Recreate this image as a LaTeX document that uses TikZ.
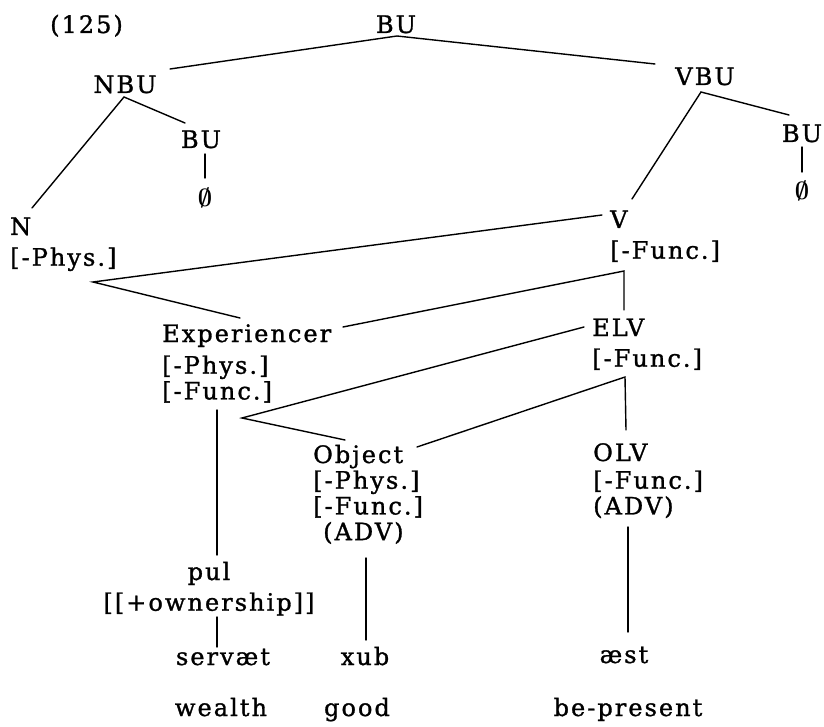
\documentclass[tikz,border=0pt]{standalone}
\usepackage{fontspec}
\setmainfont{DejaVu Serif}[LetterSpace=8.5, FakeBold=1.2]
\begin{document}
\begin{tikzpicture}[x=1pt,y=-1pt,
  every node/.style={inner sep=0pt, font=\fontsize{24}{25}\selectfont},
  lb/.style={anchor=base west},
  cb/.style={anchor=base},
  nul/.style={anchor=base, font=\fontsize{26}{26}\selectfont\boldmath},
  br/.style={line width=1.4pt, line cap=round, line join=miter}]
\useasboundingbox (0,0) rectangle (824,727);

% ---- nodes ----
\node[lb] (num) at (50,33) {(125)};
\node[cb] (bu0) at (396,33) {BU};
\node[cb] (nbu) at (125,93) {NBU};
\node[cb] (bu1) at (201,148) {BU};
\node[nul] (nul1) at (205,207) {$\emptyset$};
\node[cb] (vbu) at (705,85) {VBU};
\node[cb] (bu2) at (802,142) {BU};
\node[nul] (nul2) at (802,200) {$\emptyset$};

\node[lb] (n) at (10,235) {\begin{tabular}[t]{@{}l@{}}N\\[5pt]{}[-Phys.]\end{tabular}};
\node[lb] (v) at (610,228) {\begin{tabular}[t]{@{}l@{}}V\\[5pt]{}[-Func.]\end{tabular}};
\node[lb] (exp) at (162,342) {\begin{tabular}[t]{@{}l@{}}Experiencer\\[6pt]{}[-Phys.]\\{}[-Func.]\end{tabular}};
\node[lb] (elv) at (592,336) {\begin{tabular}[t]{@{}l@{}}ELV\\[5pt]{}[-Func.]\end{tabular}};
\node[lb] (obj) at (313,463) {\begin{tabular}[t]{@{}l@{}}Object\\{}[-Phys.]\\{}[-Func.]\\\hspace*{10pt}(ADV)\end{tabular}};
\node[lb] (olv) at (593,461) {\begin{tabular}[t]{@{}l@{}}OLV\\[2pt]{}[-Func.]\\(ADV)\end{tabular}};
\node[cb] (pul) at (209,580) {\begin{tabular}[t]{@{}c@{}}pul\\[5pt]{}[[+ownership]]\end{tabular}};

\node[cb] (serv) at (223,665) {servæt};
\node[cb] (xub) at (365,665) {xub};
\node[cb] (aest) at (624,663) {æst};
\node[cb] (wealth) at (221,716) {wealth};
\node[cb] (good) at (357,716) {good};
\node[cb] (bepr) at (628,716) {be-present};

% ---- connector end points ----
\coordinate (r0) at (397,36);
\coordinate (nbuR) at (170,69);
\coordinate (vbuL) at (655,64);
\coordinate (nbuA) at (124,97);
\coordinate (nT) at (32,208);
\coordinate (bu1L) at (185,123);
\coordinate (bu1B) at (205,154);
\coordinate (nul1T) at (205,178);
\coordinate (vbuA) at (701,92);
\coordinate (vT) at (632,199);
\coordinate (bu2L) at (789,115);
\coordinate (bu2B) at (802,147);
\coordinate (nul2T) at (802,172);
\coordinate (vL) at (602,215);
\coordinate (ap1) at (93,282);
\coordinate (expT) at (240,318);
\coordinate (expR) at (343,327);
\coordinate (ap2) at (624,271);
\coordinate (elvT) at (624,310);
\coordinate (elvL) at (584,327);
\coordinate (ap3) at (242,418);
\coordinate (objT) at (345,440);
\coordinate (objR) at (417,447);
\coordinate (ap4) at (625,377);
\coordinate (olvT) at (626,430);
\coordinate (expB) at (217,410);
\coordinate (pulT) at (217,555);
\coordinate (pulB) at (217,617);
\coordinate (servT) at (217,647);
\coordinate (objB) at (366,558);
\coordinate (xubT) at (366,640);
\coordinate (olvB) at (628,527);
\coordinate (aestT) at (628,632);

% ---- connectors ----
\draw[br] (nbuR) -- (r0) -- (vbuL);
\draw[br] (nT) -- (nbuA) -- (bu1L);
\draw[br] (bu1B) -- (nul1T);
\draw[br] (vT) -- (vbuA) -- (bu2L);
\draw[br] (bu2B) -- (nul2T);
\draw[br] (vL) -- (ap1) -- (expT);
\draw[br] (expR) -- (ap2) -- (elvT);
\draw[br] (elvL) -- (ap3) -- (objT);
\draw[br] (objR) -- (ap4) -- (olvT);
\draw[br] (expB) -- (pulT);
\draw[br] (pulB) -- (servT);
\draw[br] (objB) -- (xubT);
\draw[br] (olvB) -- (aestT);
\end{tikzpicture}
\end{document}
